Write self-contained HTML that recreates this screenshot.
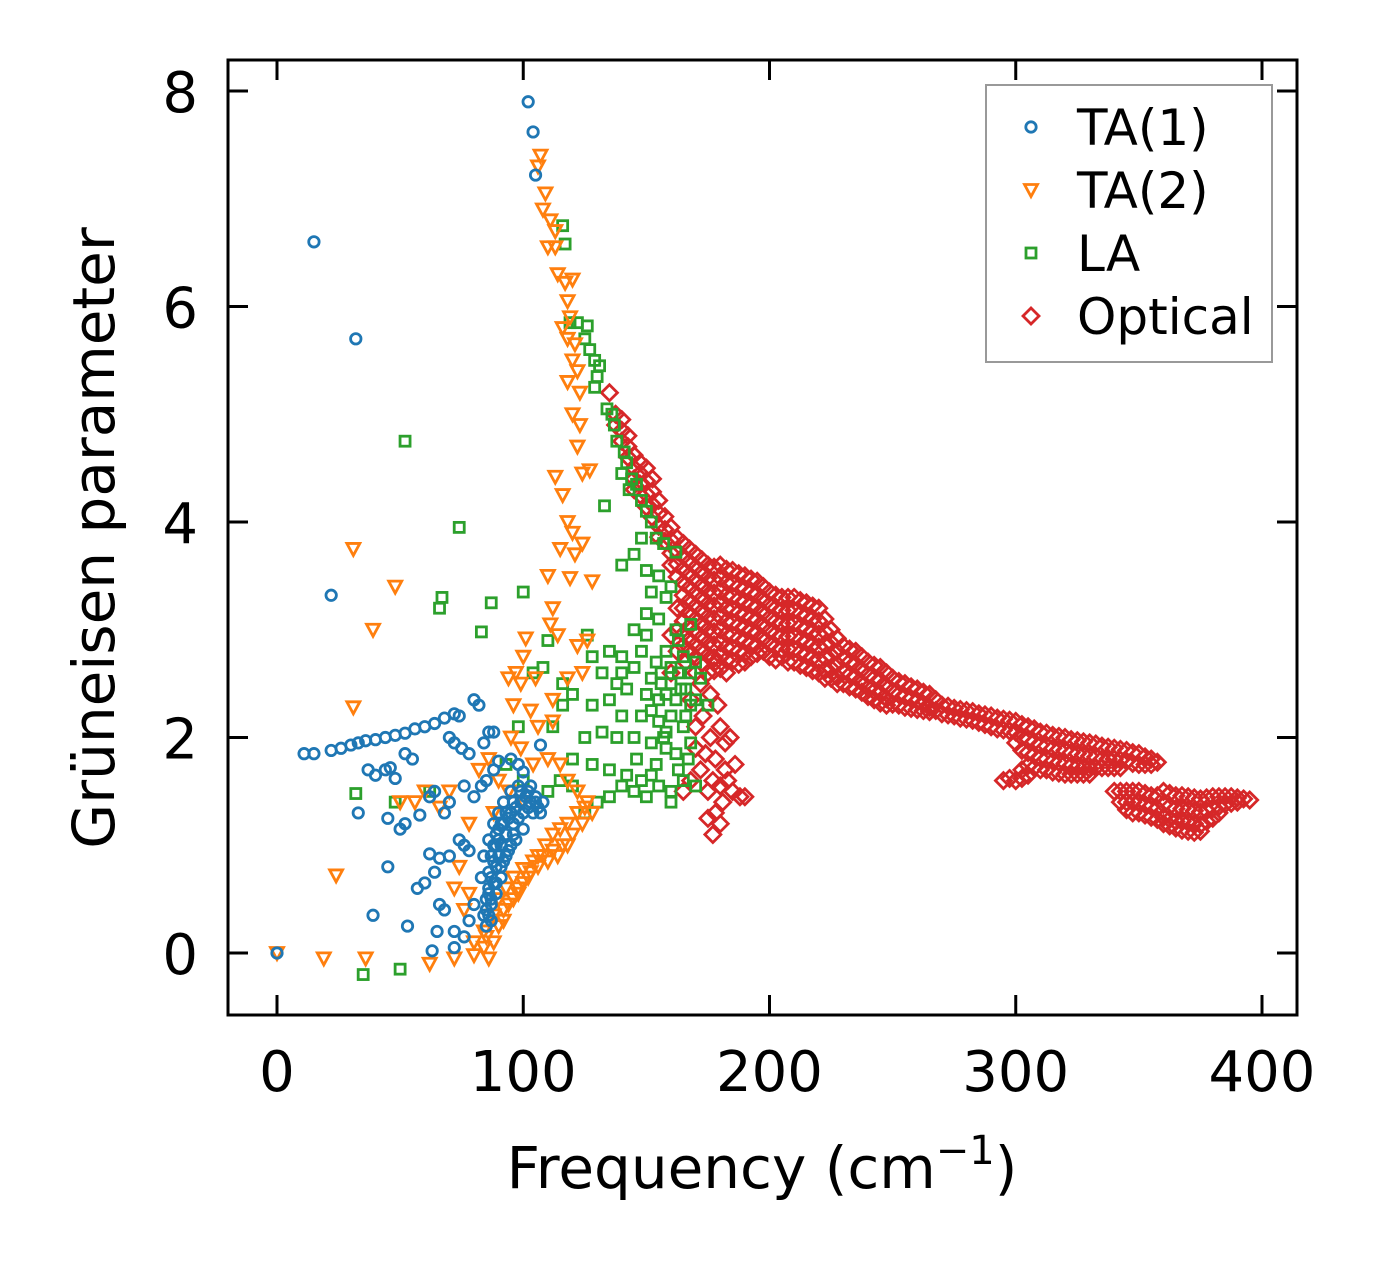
<!DOCTYPE html>
<html><head><meta charset="utf-8"><style>
html,body{margin:0;padding:0;background:#fff;}
svg{display:block;font-family:"DejaVu Sans","Liberation Sans",sans-serif;}
</style></head><body>
<svg id="chart" width="1379" height="1264" viewBox="0 0 1379 1264" xmlns="http://www.w3.org/2000/svg">
<rect width="1379" height="1264" fill="#fff"/>
<g id="marks"></g>
<rect x="228" y="60" width="1069" height="955" fill="none" stroke="#000" stroke-width="3"/>
<g id="axes"></g>
<text x="762" y="1188" font-size="58" text-anchor="middle">Frequency (cm<tspan dy="-24" font-size="40">−1</tspan><tspan dy="24">)</tspan></text>
<text transform="translate(114,538) rotate(-90)" font-size="58" text-anchor="middle">Grüneisen parameter</text>
<g>
<rect x="986" y="85" width="286" height="277" fill="#fff" stroke="#999" stroke-width="2"/>
<g id="legend-marks"></g>
<text x="1077" y="145" font-size="50">TA(1)</text>
<text x="1077" y="208" font-size="50">TA(2)</text>
<text x="1077" y="271" font-size="50">LA</text>
<text x="1077" y="334" font-size="50">Optical</text>
</g>
</svg>
<script>
const xTicks = [0,100,200,300,400];
const yTicks = [0,2,4,6,8];
const ta1Points = [[0,0],[15,6.6],[32,5.7],[22,3.32],[102,7.9],[104,7.62],[105,7.22],
[11,1.85],[15,1.85],[22,1.88],[26,1.9],[30,1.93],[33,1.95],[36,1.97],[40,1.98],[44,2.0],[48,2.02],[52,2.04],[56,2.08],[60,2.1],[64,2.13],[68,2.18],[72,2.22],[74,2.2],[80,2.35],[82,2.3],
[33,1.3],[37,1.7],[40,1.65],[44,1.7],[46,1.72],[48,1.62],[52,1.85],[55,1.8],[58,1.28],[50,1.15],[52,1.2],[45,1.25],[45,0.8],[39,0.35],[53,0.25],[57,0.6],[60,0.65],[62,0.92],[64,0.75],[66,0.88],[70,0.9],[66,0.45],[68,0.4],[72,0.2],[65,0.2],[63,0.02],[72,0.05],[76,0.15],[78,0.3],[80,0.45],
[70,2.0],[72,1.95],[75,1.9],[78,1.85],[84,1.95],[86,2.05],[88,2.05],[90,1.78],[95,1.8],[98,1.75],[100,1.68],[107,1.93],[76,1.55],[80,1.45],[83,1.55],[85,1.6],[88,1.7],[64,1.5],[62,1.45],[68,1.3],[70,1.4],[74,1.05],[76,1.0],[78,0.95],
[84,0.35],[85,0.5],[86,0.6],[86,0.75],[87,0.45],[87,0.9],[88,0.65],[88,1.0],[89,0.8],[89,1.1],[90,0.9],[90,1.15],[91,1.0],[92,1.2],[92,0.85],[93,1.1],[94,1.25],[95,1.3],[95,1.0],[96,1.2],[97,1.35],[98,1.25],[99,1.4],[100,1.3],[101,1.45],[102,1.35],[103,1.4],[104,1.3],[105,1.45],[106,1.35],[107,1.3],[108,1.4],[100,1.15],[97,1.05],[94,0.95],[91,0.7],[89,0.55],[87,0.3],[85,0.25],[83,0.7],[84,0.9],[86,1.05],[88,1.2],[90,1.3],[92,1.4],[95,1.5],[98,1.55],[103,1.55],
[85,0.4],[86,0.55],[87,0.7],[88,0.85],[89,1.0],[90,1.05],[91,1.2],[93,1.3],[96,1.4],[99,1.5],[102,1.5],[105,1.4],[96,1.1],[93,0.9],[91,0.8],[89,0.65],[87,0.5],[86,0.35]];
const ta2Points = [[0,0],[19,-0.05],[36,-0.05],[62,-0.1],[72,-0.05],[80,-0.02],[24,0.72],[31,3.75],[48,3.4],[39,3.0],[31,2.28],
[107,7.4],[106,7.3],[109,7.05],[108,6.9],[111,6.8],[113,6.7],[110,6.55],[113,6.55],[114,6.3],[117,6.22],[120,6.25],[118,6.05],[119,5.9],[116,5.8],[118,5.7],[121,5.65],[120,5.5],[122,5.4],[118,5.3],[123,5.2],[120,5.0],[123,4.9],[122,4.7],[124,4.45],[127,4.48],[113,4.42],[116,4.25],[118,4.0],[120,3.9],[115,3.75],[121,3.7],[124,3.8],[110,3.5],[119,3.48],[128,3.45],[112,3.2],[111,3.05],[114,2.95],[101,2.92],[97,2.6],[99,2.5],[105,2.55],[96,2.3],[103,2.25],[112,2.15],[95,2.0],[99,1.9],[104,1.75],[110,1.8],[115,1.75],[118,1.6],[122,1.5],[125,1.35],
[80,0.1],[84,0.2],[88,0.35],[90,0.5],[93,0.6],[96,0.7],[100,0.78],[104,0.85],[108,0.9],[112,0.95],[116,1.0],[120,1.1],[124,1.2],[128,1.3],[85,0.15],[92,0.4],[98,0.6],[102,0.7],[106,0.8],[110,0.85],[114,0.9],[118,1.0],[76,0.4],[78,0.55],[74,0.8],[72,0.6],[70,1.5],[78,1.2],[82,1.7],[86,1.8],[90,1.6],[94,1.5],[100,1.4],[88,1.3],[66,1.35],[60,1.5],[56,1.4],[50,1.4],[94,2.55],[100,2.75],[106,2.1],[112,2.35],[118,2.55],[122,2.85],[124,2.6],[126,2.9],
[88,0.1],[90,0.25],[92,0.3],[94,0.45],[96,0.5],[98,0.55],[100,0.65],[103,0.75],[106,0.9],[109,1.0],[112,1.1],[115,1.15],[118,1.2],[122,1.3],[126,1.4],[86,-0.05],[84,0.05]];
const laPoints = [[35,-0.2],[50,-0.15],[52,4.75],[74,3.95],[66,3.2],[67,3.3],[87,3.25],[83,2.98],[100,3.35],[32,1.48],[48,1.4],[62,1.5],
[116,6.75],[117,6.58],[119,5.85],[122,5.85],[126,5.82],[125,5.7],[127,5.6],[129,5.5],[131,5.45],[130,5.35],[129,5.25],[134,5.05],[136,5.0],[137,4.9],[138,4.75],[141,4.65],[142,4.55],[140,4.45],[144,4.4],[146,4.35],[143,4.3],[148,4.2],[133,4.15],[150,4.1],[152,4.0],[148,3.85],[154,3.85],[157,3.8],[145,3.7],[162,3.72],[140,3.6],[150,3.55],[155,3.5],[160,3.4],[152,3.35],[158,3.3],[150,3.15],[155,3.1],[162,3.0],[168,3.05],[150,2.95],[163,2.9],[148,2.8],[158,2.8],[165,2.75],[170,2.7],[140,2.6],[145,2.65],[152,2.55],[160,2.5],[168,2.6],[172,2.55],[132,2.6],[138,2.5],[142,2.45],[150,2.4],[155,2.35],[162,2.35],[168,2.3],[175,2.3],[128,2.3],[135,2.35],[140,2.2],[148,2.2],[155,2.15],[160,2.2],[165,2.1],[125,2.0],[132,2.05],[138,2.0],[145,2.0],[152,1.95],[158,1.9],[162,1.85],[168,1.95],[120,1.8],[128,1.75],[135,1.7],[142,1.65],[148,1.6],[155,1.55],[160,1.5],[165,1.6],[170,1.55],[130,1.4],[135,1.45],[140,1.55],[145,1.5],[150,1.45],[125,1.3],[160,1.4],[110,2.9],[108,2.65],[104,2.6],[116,2.5],[120,2.4],[112,2.1],[116,2.3],[98,2.1],[93,1.75],[100,1.6],[110,1.5],[115,1.6],[120,1.55],[135,2.8],[128,2.75],[126,2.95],[140,2.75],[145,3.0],[156,2.6],[164,2.45],[158,2.05],[166,2.2],[154,1.75],
[152,2.25],[158,2.4],[163,2.6],[166,2.45],[170,2.35],[154,2.7],[160,2.65],[157,2.0],[163,1.7],[167,1.8],[146,1.8],[152,1.65],[156,2.5]];
const opticalColumns = [[135,[5.2]],[137.5,[5.0,4.9]],[140,[4.95,4.85,4.75]],[142.5,[4.8,4.7,4.6]],[145,[4.62,4.5,4.4,4.3]],[147.5,[4.55,4.45,4.35,4.25]],[150,[4.5,4.38,4.26,4.14]],[152.5,[4.4,4.28,4.16,4.04]],[155,[4.2,4.08,3.96,3.86]],[157.5,[4.05,3.93,3.82]],
[160,[3.95,3.83,3.71,3.6,2.95,2.6]],[162.5,[3.85,3.73,3.61,3.49,3.2,3.0,2.8]],[165,[3.8,3.68,3.56,3.44,3.32,3.2,3.08,2.96,2.85]],[167.5,[3.75,3.63,3.51,3.39,3.27,3.15,3.03,2.91,2.8]],[170,[3.7,3.58,3.46,3.34,3.22,3.1,2.98,2.86,2.74]],[172.5,[3.65,3.53,3.41,3.29,3.17,3.05,2.93,2.81,2.69]],
[175,[3.6,3.48,3.36,3.24,3.12,3.0,2.88,2.76]],[177.5,[3.58,3.46,3.34,3.22,3.1,2.98,2.86,2.74,2.62]],[180,[3.6,3.48,3.36,3.24,3.12,3.0,2.88,2.76,2.64]],[182.5,[3.56,3.44,3.32,3.2,3.08,2.96,2.84,2.72,2.6]],[185,[3.55,3.43,3.31,3.19,3.07,2.95,2.83,2.71]],[187.5,[3.52,3.4,3.28,3.16,3.04,2.92,2.8,2.68]],[190,[3.5,3.38,3.26,3.14,3.02,2.9,2.78,2.7]],[192.5,[3.47,3.35,3.23,3.11,2.99,2.87,2.75]],[195,[3.45,3.33,3.21,3.09,2.97,2.85,2.78]],[197.5,[3.4,3.28,3.16,3.04,2.92,2.8]],
[200,[3.35,3.23,3.11,2.99,2.87,2.75]],[202.5,[3.32,3.2,3.08,2.96,2.84,2.72]],[205,[3.3,3.18,3.06,2.94,2.82,2.75]],[207.5,[3.3,3.18,3.06,2.94,2.82,2.7]],[210,[3.3,3.18,3.06,2.94,2.82,2.7]],[212.5,[3.27,3.15,3.03,2.91,2.79,2.67]],[215,[3.25,3.13,3.01,2.89,2.77,2.65]],[217.5,[3.22,3.1,2.98,2.86,2.74,2.62]],[220,[3.2,3.08,2.96,2.84,2.72,2.6]],[222.5,[3.1,2.98,2.86,2.74,2.62,2.55]],[225,[3.0,2.88,2.76,2.64,2.55]],[227.5,[2.92,2.8,2.68,2.56,2.5]],
[230,[2.85,2.73,2.61,2.5]],[232.5,[2.82,2.7,2.58,2.47]],[235,[2.8,2.68,2.56,2.45]],[237.5,[2.75,2.63,2.51,2.42]],[240,[2.7,2.58,2.46,2.38]],[242.5,[2.67,2.55,2.43,2.35]],[245,[2.65,2.53,2.41,2.32]],[247.5,[2.6,2.48,2.36,2.3]],[250,[2.55,2.43,2.31]],[252.5,[2.52,2.4,2.3]],[255,[2.5,2.38,2.28]],[257.5,[2.47,2.36,2.27]],[260,[2.45,2.34,2.26]],[262.5,[2.42,2.31,2.25]],[265,[2.4,2.28,2.24]],[267.5,[2.35,2.25]],
[270,[2.3,2.22]],[272.5,[2.29,2.21]],[275,[2.27,2.2]],[277.5,[2.26,2.18]],[280,[2.25,2.17]],[282.5,[2.24,2.16]],[285,[2.22,2.14]],[287.5,[2.21,2.12]],[290,[2.2,2.1]],[292.5,[2.18,2.08]],[295,[2.17,2.07,1.6]],[297.5,[2.16,2.06,1.62]],
[300,[2.15,2.05,1.95,1.6]],[302.5,[2.12,2.0,1.88,1.7,1.62]],[305,[2.1,1.98,1.86,1.74,1.65]],[307.5,[2.08,1.96,1.84,1.72]],[310,[2.05,1.93,1.81,1.7]],[312.5,[2.04,1.92,1.8,1.7]],[315,[2.02,1.9,1.78,1.68]],[317.5,[2.01,1.89,1.77,1.67]],[320,[2.0,1.88,1.76,1.66]],[322.5,[1.98,1.86,1.74,1.66]],[325,[1.97,1.85,1.73,1.66]],[327.5,[1.96,1.84,1.72,1.66]],
[330,[1.95,1.83,1.71,1.66]],[332.5,[1.94,1.82,1.72]],[335,[1.92,1.8,1.72]],[337.5,[1.91,1.8,1.72]],[340,[1.9,1.8,1.72,1.5]],[342.5,[1.89,1.79,1.72,1.5,1.4]],[345,[1.88,1.78,1.5,1.4,1.33]],[347.5,[1.86,1.76,1.5,1.4,1.3]],[350,[1.85,1.75,1.5,1.4,1.3]],[352.5,[1.82,1.75,1.48,1.38,1.28]],[355,[1.8,1.75,1.46,1.36,1.26]],[357.5,[1.77,1.46,1.34,1.24]],
[360,[1.5,1.38,1.26,1.2]],[362.5,[1.48,1.36,1.24,1.18]],[365,[1.46,1.34,1.22,1.16]],[367.5,[1.46,1.34,1.22,1.14]],[370,[1.45,1.33,1.21,1.13]],[372.5,[1.44,1.32,1.2,1.12]],[375,[1.43,1.31,1.19,1.13]],[377.5,[1.44,1.32,1.22]],[380,[1.45,1.34,1.25]],[382.5,[1.45,1.36,1.3]],[385,[1.45,1.38]],[387.5,[1.45,1.39]],[390,[1.44,1.4]],[392.5,[1.43]],[395,[1.42]]];
const opticalExtra = [[165,1.5],[168,1.6],[170,1.9],[172,1.7],[175,1.5],[178,1.3],[180,1.55],[182,1.7],[185,1.5],[188,1.45],[190,1.45],[176,2.0],[180,2.1],[182,1.95],[178,1.8],[175,1.25],[180,1.2],[173,2.2],[168,2.35],[172,2.5],[175,2.6],[178,2.7],
[170,2.1],[174,1.85],[177,1.6],[183,1.6],[186,1.75],[184,2.0],[179,2.3],[176,2.4],[170,2.6],[166,2.7],[181,1.4],[177,1.1]];

const NS='http://www.w3.org/2000/svg';
const X0=277, XS=2.4625, Y0=953, YS=107.75;
function sx(v){return X0+v*XS;}
function sy(v){return Y0-v*YS;}
const marks=document.getElementById('marks');
const axes=document.getElementById('axes');
function mk(tag,attrs,parent){const e=document.createElementNS(NS,tag);for(const k in attrs)e.setAttribute(k,attrs[k]);parent.appendChild(e);return e;}
function marker(type,cx,cy,parent){
  let e;
  if(type==='circle'){e=mk('circle',{cx:cx,cy:cy,r:5.2,fill:'none',stroke:'#1f77b4','stroke-width':2.8},parent);}
  else if(type==='tri'){e=mk('polygon',{points:`${cx-6.5},${cy-5.5} ${cx+6.5},${cy-5.5} ${cx},${cy+6.5}`,fill:'none',stroke:'#ff7f0e','stroke-width':2.8,'stroke-linejoin':'miter'},parent);}
  else if(type==='square'){e=mk('rect',{x:cx-5,y:cy-5,width:10,height:10,fill:'none',stroke:'#2ca02c','stroke-width':2.8},parent);}
  else {e=mk('polygon',{points:`${cx},${cy-8} ${cx+8},${cy} ${cx},${cy+8} ${cx-8},${cy}`,fill:'none',stroke:'#d62728','stroke-width':2.8},parent);}
  return e;
}
const gOpt=mk('g',{},marks);


opticalColumns.forEach(c=>{c[1].forEach(y=>{const e=marker('diamond',sx(c[0]),sy(y),gOpt);

});});
opticalExtra.forEach(p=>{const e=marker('diamond',sx(p[0]),sy(p[1]),gOpt);

});
const gLA=mk('g',{},marks);


laPoints.forEach(p=>{const e=marker('square',sx(p[0]),sy(p[1]),gLA);

});
const gTA2=mk('g',{},marks);


ta2Points.forEach(p=>{const e=marker('tri',sx(p[0]),sy(p[1]),gTA2);

});
const gTA1=mk('g',{},marks);


ta1Points.forEach(p=>{const e=marker('circle',sx(p[0]),sy(p[1]),gTA1);

});

xTicks.forEach(t=>{const x=sx(t);
  const a=mk('line',{x1:x,y1:1015,x2:x,y2:995,stroke:'#000','stroke-width':3},axes);
  
  
  const b=mk('line',{x1:x,y1:60,x2:x,y2:80,stroke:'#000','stroke-width':3},axes);
  
  
  const l=mk('text',{x:x,y:1091,'font-size':56,'text-anchor':'middle'},axes);l.textContent=t;
  
  
});
yTicks.forEach(t=>{const y=sy(t);
  const a=mk('line',{x1:228,y1:y,x2:248,y2:y,stroke:'#000','stroke-width':3},axes);
  
  
  const b=mk('line',{x1:1297,y1:y,x2:1277,y2:y,stroke:'#000','stroke-width':3},axes);
  
  
  const l=mk('text',{x:198,y:y+21,'font-size':56,'text-anchor':'end'},axes);l.textContent=t;
  
  
});
const lg=document.getElementById('legend-marks');
[['circle',127],['tri',190],['square',253],['diamond',316]].forEach(m=>{const e=marker(m[0],1031,m[1],lg);

});
</script>
</body></html>
